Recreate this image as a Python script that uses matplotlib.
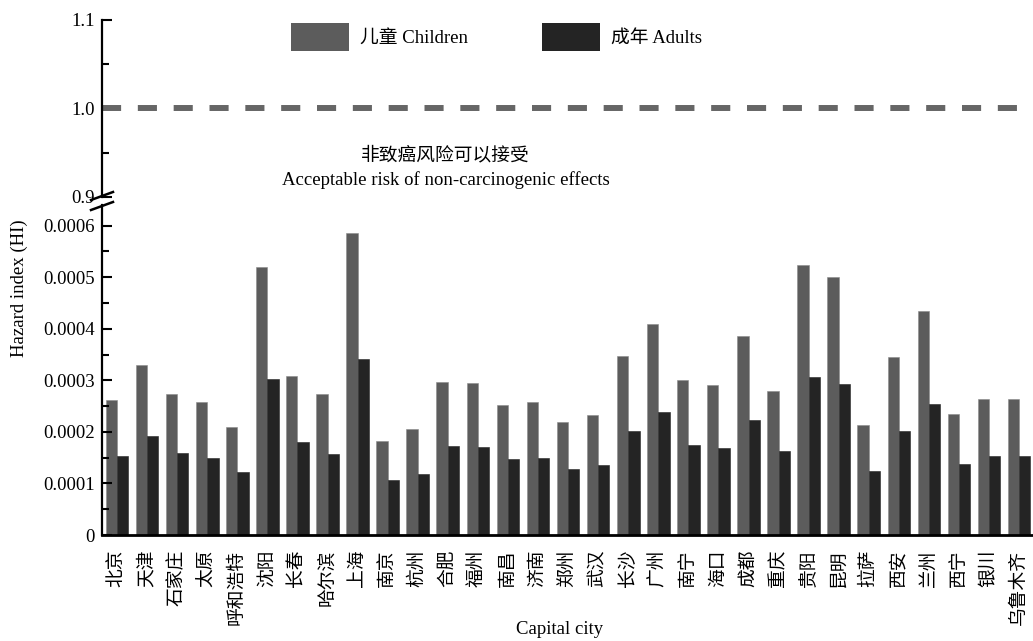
import matplotlib
matplotlib.use("Agg")
import matplotlib.pyplot as plt
import numpy as np
from matplotlib.lines import Line2D
from matplotlib.patches import Patch
from matplotlib.ticker import FixedLocator, FuncFormatter

plt.rcParams['font.family'] = ['Liberation Serif', 'Noto Sans CJK SC', 'DejaVu Sans']
plt.rcParams['axes.unicode_minus'] = False

cities = ['北京', '天津', '石家庄', '太原', '呼和浩特', '沈阳', '长春', '哈尔滨', '上海', '南京',
          '杭州', '合肥', '福州', '南昌', '济南', '郑州', '武汉', '长沙', '广州', '南宁',
          '海口', '成都', '重庆', '贵阳', '昆明', '拉萨', '西安', '兰州', '西宁', '银川', '乌鲁木齐']
children = [0.000261, 0.000330, 0.000274, 0.000257, 0.000210, 0.000519, 0.000309, 0.000273,
            0.000585, 0.000183, 0.000205, 0.000297, 0.000294, 0.000253, 0.000257, 0.000220,
            0.000232, 0.000347, 0.000409, 0.000300, 0.000290, 0.000385, 0.000280, 0.000524,
            0.000500, 0.000214, 0.000346, 0.000435, 0.000235, 0.000264, 0.000263]
adults = [0.000153, 0.000192, 0.000159, 0.000150, 0.000123, 0.000303, 0.000180, 0.000158,
          0.000342, 0.000106, 0.000119, 0.000172, 0.000171, 0.000147, 0.000150, 0.000128,
          0.000135, 0.000202, 0.000239, 0.000174, 0.000169, 0.000224, 0.000163, 0.000306,
          0.000292, 0.000125, 0.000202, 0.000254, 0.000137, 0.000154, 0.000154]
threshold = 1.0
lower_ticks = [0, 0.0001, 0.0002, 0.0003, 0.0004, 0.0005, 0.0006]
upper_ticks = [0.9, 1.0, 1.1]

W, H = 1033, 641
fig = plt.figure(figsize=(W / 100, H / 100), dpi=100)

def px(x0, y0, x1, y1):
    return [x0 / W, 1 - y1 / H, (x1 - x0) / W, (y1 - y0) / H]

c_child = '#5c5c5c'
c_adult = '#242424'
fs = 13.5

ax = fig.add_axes(px(101.7, 205, 1033, 535))
axu = fig.add_axes(px(101.7, 20, 1033, 196.7))

x = np.arange(len(cities))
bw = 0.376
ax.bar(x - bw / 2, children, width=bw, color=c_child, edgecolor='#8a8a8a', linewidth=0.4)
ax.bar(x + bw / 2, adults, width=bw, color=c_adult, edgecolor=c_adult, linewidth=0.4)
ax.set_xlim(-0.509, 30.46)
ax.set_ylim(0, 0.00064)
ax.set_xticks(x)
ax.set_xticklabels(cities, rotation=90, fontsize=fs, va='top', ha='center')
ax.tick_params(axis='x', length=0, pad=10.5)
ax.yaxis.set_major_locator(FixedLocator(lower_ticks))
ax.yaxis.set_minor_locator(FixedLocator([0.00005 + 0.0001 * i for i in range(6)]))
ax.yaxis.set_major_formatter(FuncFormatter(lambda v, p: '0' if abs(v) < 1e-12 else f'{v:.4f}'))
ax.tick_params(axis='y', which='major', direction='in', length=7, width=1.5, labelsize=fs, pad=5)
ax.tick_params(axis='y', which='minor', direction='in', length=5, width=1.5)
for s in ['top', 'right']:
    ax.spines[s].set_visible(False)
ax.spines['left'].set_linewidth(1.6)
ax.spines['bottom'].set_linewidth(2.0)

axu.set_xlim(-0.509, 30.46)
axu.set_ylim(0.9, 1.1)
axu.axhline(threshold, color='#666666', linewidth=4.3, dashes=(3.2, 2.8), dash_capstyle='butt')
axu.yaxis.set_major_locator(FixedLocator(upper_ticks))
axu.yaxis.set_minor_locator(FixedLocator([0.95, 1.05]))
axu.yaxis.set_major_formatter(FuncFormatter(lambda v, p: f'{v:.1f}'))
axu.tick_params(axis='y', which='major', direction='in', length=7, width=1.5, labelsize=fs, pad=5)
axu.tick_params(axis='y', which='minor', direction='in', length=5, width=1.5)
axu.set_xticks([])
for s in ['top', 'right', 'bottom']:
    axu.spines[s].set_visible(False)
axu.spines['left'].set_linewidth(1.6)
axu.patch.set_alpha(0)

# break marks
for (x0, y0, x1, y1) in [(91, 200, 113, 192), (91, 210, 113, 202)]:
    fig.add_artist(Line2D([x0 / W, x1 / W], [1 - y0 / H, 1 - y1 / H], color='black', linewidth=1.8))

fig.text(445 / W, 1 - 155 / H, '非致癌风险可以接受', ha='center', va='center', fontsize=fs)
fig.text(446 / W, 1 - 180 / H, 'Acceptable risk of non-carcinogenic effects', ha='center', va='center', fontsize=fs)
fig.text(19 / W, 1 - 288 / H, 'Hazard index (HI)', rotation=90, ha='center', va='center', fontsize=fs)
fig.text(560 / W, 1 - 630 / H, 'Capital city', ha='center', va='center', fontsize=fs)

handles = [Patch(facecolor=c_child, edgecolor='none'), Patch(facecolor=c_adult, edgecolor='none')]
fig.legend(handles, ['儿童 Children', '成年 Adults'], loc='center left',
           bbox_to_anchor=(291 / W, 1 - 36.7 / H), ncol=2, frameon=False, fontsize=fs,
           borderpad=0, borderaxespad=0, handlelength=3.1, handleheight=1.95,
           handletextpad=0.6, columnspacing=3.9)

fig.savefig('out.png', dpi=100)
